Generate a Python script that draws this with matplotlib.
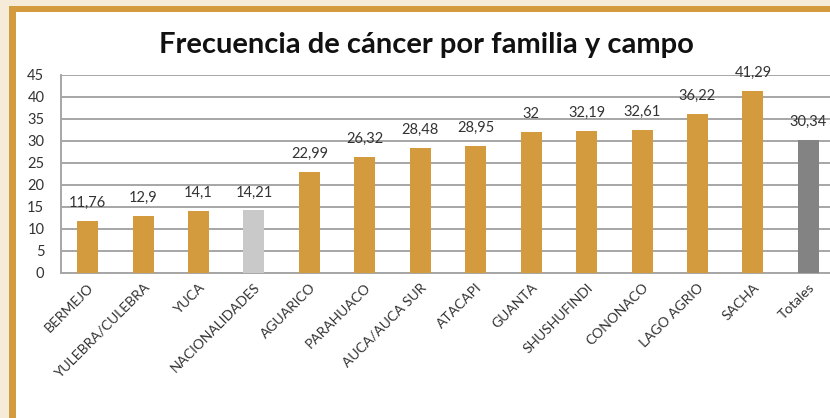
import matplotlib
matplotlib.use('agg')
import matplotlib.pyplot as plt
from matplotlib.patches import Rectangle

plt.rcParams['font.family'] = ['Lato', 'DejaVu Sans']

campos = ['BERMEJO', 'YULEBRA/CULEBRA', 'YUCA', 'NACIONALIDADES', 'AGUARICO',
          'PARAHUACO', 'AUCA/AUCA SUR', 'ATACAPI', 'GUANTA', 'SHUSHUFINDI',
          'CONONACO', 'LAGO AGRIO', 'SACHA', 'Totales']
valores = [11.76, 12.9, 14.1, 14.21, 22.99, 26.32, 28.48, 28.95, 32, 32.19,
           32.61, 36.22, 41.29, 30.34]
etiquetas = ['11,76', '12,9', '14,1', '14,21', '22,99', '26,32', '28,48', '28,95',
             '32', '32,19', '32,61', '36,22', '41,29', '30,34']

oro = '#D39A3E'
colores = [oro] * len(campos)
colores[campos.index('NACIONALIDADES')] = '#C9C9C9'
colores[campos.index('Totales')] = '#838383'

W, H = 830, 418
fig = plt.figure(figsize=(W / 100, H / 100), dpi=100)
fig.patch.set_facecolor('white')

# marco: fondo crema y borde naranja arriba/izquierda
fig.patches.append(Rectangle((0, 0), 1, 1, transform=fig.transFigure,
                             facecolor='#F6EBD9', edgecolor='none', zorder=-3))
fig.patches.append(Rectangle((9 / W, -0.1), 2, (H - 6) / H + 0.1, transform=fig.transFigure,
                             facecolor=oro, edgecolor='none', zorder=-2))
fig.patches.append(Rectangle((16 / W, -0.1), 2, (H - 12) / H + 0.1, transform=fig.transFigure,
                             facecolor='white', edgecolor='none', zorder=-1))

ax = fig.add_axes([61 / W, 145 / H, 774 / W, 198 / H])
x = range(len(campos))
ax.bar(x, valores, width=0.38, color=colores, zorder=3)

for xi, v, t in zip(x, valores, etiquetas):
    ax.annotate(t, (xi, v), xytext=(0, 13), textcoords='offset points',
                ha='center', va='center', fontsize=10.5, color='#333333')

ax.set_xlim(-0.48, len(campos) - 0.52)
ax.set_ylim(0, 45)
ax.set_yticks(range(0, 46, 5))
ax.yaxis.grid(True, color='#A6A6A6', linewidth=1.4, zorder=0)
ax.set_axisbelow(True)
ax.set_facecolor('none')
for s in ['top', 'right']:
    ax.spines[s].set_visible(False)
for s in ['left', 'bottom']:
    ax.spines[s].set_color('#A6A6A6')
    ax.spines[s].set_linewidth(1.4)
ax.tick_params(length=0, labelsize=10.5, labelcolor='#333333')
ax.tick_params(axis='y', pad=12)
ax.tick_params(axis='x', pad=6)
ax.set_xticks(list(x))
ax.set_xticklabels(campos, rotation=45, ha='right', rotation_mode='anchor', fontsize=10)

fig.text(426 / W, 1 - 45 / H, 'Frecuencia de cáncer por familia y campo',
         ha='center', va='center', fontsize=21, fontweight='bold', color='#111111')

fig.savefig('out.png', dpi=100, facecolor=fig.get_facecolor())
